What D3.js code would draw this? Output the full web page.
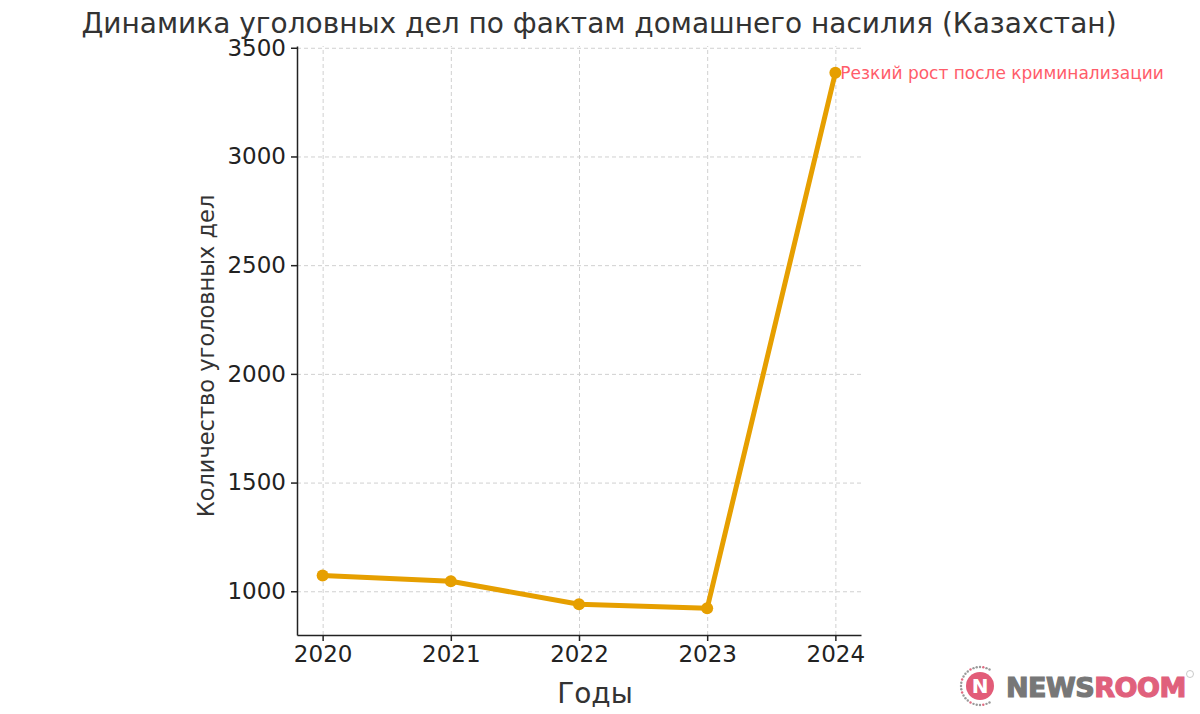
<!DOCTYPE html>
<html>
<head>
<meta charset="utf-8">
<script src="https://cdn.jsdelivr.net/npm/d3@7"></script>
<style>
  body { margin: 0; background: #fff; }
  .grid line { stroke: #d0d0d0; stroke-dasharray: 4,3; stroke-width: 1; }
  .grid path { display: none; }
  .axis text { font-family: "DejaVu Sans", sans-serif; font-size: 23px; fill: #222; }
  .axis path, .axis line { stroke: #222; stroke-width: 1.5; }
</style>
</head>
<body>
<script>
// data
var years = [2020, 2021, 2022, 2023, 2024];
var cases = [1073, 1046, 940, 922, 3385];
var yTicks = [1000, 1500, 2000, 2500, 3000, 3500];

var W = 1200, H = 714;
var margin = {top: 46, left: 297, right: 339, bottom: 79};
var width = W - margin.left - margin.right,
    height = H - margin.top - margin.bottom;

var svg = d3.select("body").append("svg")
    .attr("width", W)
    .attr("height", H);

var g = svg.append("g")
    .attr("transform", "translate(" + margin.left + "," + margin.top + ")");

// matplotlib-like 5% padding
var xPad = (d3.max(years) - d3.min(years)) * 0.05;
var x = d3.scaleLinear()
    .domain([d3.min(years) - xPad, d3.max(years) + xPad])
    .range([0, width]);
var yPad = (d3.max(cases) - d3.min(cases)) * 0.05;
var y = d3.scaleLinear()
    .domain([d3.min(cases) - yPad, d3.max(cases) + yPad])
    .range([height, 0]);

// gridlines
g.append("g").attr("class", "grid")
    .attr("transform", "translate(0," + height + ")")
    .call(d3.axisBottom(x).tickValues(years).tickSize(-height).tickFormat(""));
g.append("g").attr("class", "grid")
    .call(d3.axisLeft(y).tickValues(yTicks).tickSize(-width).tickFormat(""));

// axes
g.append("g").attr("class", "axis")
    .attr("transform", "translate(0," + height + ")")
    .call(d3.axisBottom(x).tickValues(years).tickFormat(d3.format("d")).tickSize(6).tickPadding(5).tickSizeOuter(0));
g.append("g").attr("class", "axis")
    .call(d3.axisLeft(y).tickValues(yTicks).tickFormat(d3.format("d")).tickSize(6).tickPadding(5).tickSizeOuter(0));

// line
var line = d3.line()
    .x(function(d, i) { return x(years[i]); })
    .y(function(d) { return y(d); });

g.append("path")
    .datum(cases)
    .attr("fill", "none")
    .attr("stroke", "#E69F00")
    .attr("stroke-width", 5)
    .attr("stroke-linejoin", "round")
    .attr("d", line);

g.selectAll(".dot")
    .data(cases)
  .enter().append("circle")
    .attr("class", "dot")
    .attr("cx", function(d, i) { return x(years[i]); })
    .attr("cy", function(d) { return y(d); })
    .attr("r", 6)
    .style("fill", "#E69F00");

// annotation
g.append("text")
    .attr("x", x(2024) + 5)
    .attr("y", y(cases[4]) + 6)
    .style("font-family", "DejaVu Sans, sans-serif")
    .style("font-size", "17px")
    .style("fill", "#ff5c6a")
    .text("Резкий рост после криминализации");

// title and labels
svg.append("text")
    .attr("x", 599)
    .attr("y", 33)
    .attr("text-anchor", "middle")
    .style("font-family", "DejaVu Sans, sans-serif")
    .style("font-size", "28px")
    .style("fill", "#333")
    .text("Динамика уголовных дел по фактам домашнего насилия (Казахстан)");

svg.append("text")
    .attr("x", 595)
    .attr("y", 703)
    .attr("text-anchor", "middle")
    .style("font-family", "DejaVu Sans, sans-serif")
    .style("font-size", "28px")
    .style("fill", "#333")
    .text("Годы");

svg.append("text")
    .attr("transform", "rotate(-90)")
    .attr("x", -356)
    .attr("y", 214)
    .attr("text-anchor", "middle")
    .style("font-family", "DejaVu Sans, sans-serif")
    .style("font-size", "22.5px")
    .style("fill", "#333")
    .text("Количество уголовных дел");

// NEWSROOM logo
var logo = svg.append("g").attr("transform", "translate(980,686)");
d3.range(36).forEach(function(i) {
  var a = i / 36 * 2 * Math.PI;
  if (Math.cos(a) > 0.55) return; // ring open on the right side
  logo.append("circle")
    .attr("cx", Math.cos(a) * 19)
    .attr("cy", Math.sin(a) * 19)
    .attr("r", 1.2)
    .style("fill", i % 4 == 0 ? "#e06a80" : "#999");
});
logo.append("circle").attr("r", 14).style("fill", "#e25c78");
logo.append("text")
    .attr("text-anchor", "middle").attr("y", 7)
    .style("font-family", "DejaVu Sans, sans-serif").style("font-weight", "bold")
    .style("font-size", "20px").style("fill", "#fff")
    .text("N");
var lt = svg.append("text")
    .attr("x", 1006).attr("y", 697)
    .style("font-family", "DejaVu Sans, sans-serif").style("font-weight", "bold")
    .style("font-size", "27px").style("letter-spacing", "-0.5px")
    .style("stroke-width", 1.2);
lt.append("tspan").style("fill", "#777").style("stroke", "#777").text("NEWS");
lt.append("tspan").style("fill", "#e0607c").style("stroke", "#e0607c").text("ROOM");
svg.append("circle").attr("cx", 1190).attr("cy", 674).attr("r", 3.5)
    .style("fill", "none").style("stroke", "#bbb").style("stroke-width", 0.8);
</script>
</body>
</html>
